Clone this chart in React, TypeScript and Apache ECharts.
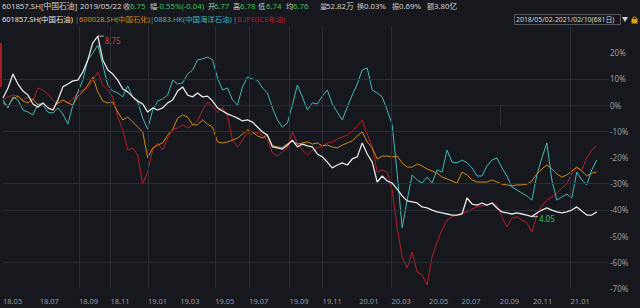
import React, { useEffect, useRef } from 'react';
import * as echarts from 'echarts';

// ---------- data ----------
const SAMPLE_STEP = 5.714; // trading days between samples (681 trading days total)

const monthLabels = ['18.05', '18.07', '18.09', '18.11', '19.01', '19.03', '19.05', '19.07', '19.09', '19.11', '20.01', '20.03', '20.05', '20.07', '20.09', '20.11', '21.01'];
const monthDays = [0, 42, 87, 123, 166, 203, 243, 282, 328, 366, 408, 445, 488, 525, 569, 607, 650];
const gridMonths = ['18.09', '18.11', '19.01', '19.05', '19.07', '19.09', '19.11', '20.03', '21.01'];
const tickMonths = ['18.09', '18.11', '19.01', '19.05', '19.07', '19.09', '19.11', '20.03', '20.09', '21.01'];
const yTicks = [20, 10, 0, -10, -20, -30, -40, -50, -60, -70];
const hGridValues = [10, 0, -10, -30, -40, -60];

// % change vs 2018/05/02
const petrochina = [
  2.7, 6.5, 11.8, 8.0, 5.3, 3.8, 0.4, -0.8, 0.8, -1.1,
  -1.9, 1.9, 6.9, 8.0, 9.2, 9.5, 12.6, 17.2, 23.7, 26.3,
  17.2, 13.4, 11.8, 9.5, 6.1, 5.0, 3.1, 1.5, 0.4, -2.7,
  -1.1, -1.9, -1.1, 0.8, 1.9, 5.3, 6.9, 3.8, 3.1, 4.6,
  3.1, 3.4, 1.5, -1.1, -2.3, -3.4, -4.2, -5.0, -6.1, -5.7,
  -6.5, -8.4, -10.3, -11.5, -16.0, -16.4, -16.8, -15.3, -13.4, -16.0,
  -14.9, -15.6, -16.0, -18.7, -19.8, -21.8, -24.0, -22.9, -22.1, -22.9,
  -20.6, -19.8, -14.5, -18.7, -21.8, -29.4, -27.1, -29.0, -29.8, -32.1,
  -34.7, -36.6, -37.0, -37.4, -38.9, -39.3, -40.1, -40.8, -41.2, -41.6,
  -42.0, -42.0, -41.6, -35.5, -37.8, -38.2, -37.4, -38.2, -37.4, -39.3,
  -40.8, -41.2, -41.6, -41.2, -41.6, -42.0, -42.6, -41.2, -40.1, -39.3,
  -40.1, -40.8, -41.2, -40.8, -40.1, -38.9, -40.5, -42.0, -42.0, -40.8,
];
const sinopec = [
  0.8, -0.4, 2.3, 3.4, 1.5, 0.8, 2.3, 0, 0.8, -1.1,
  -1.9, 0.8, 1.9, 0.8, 0, 3.4, 5.0, 7.6, 10.7, 5.0,
  1.5, 0.8, 1.1, -2.7, -5.7, -4.6, -6.5, -8.4, -10.3, -20.2,
  -16.4, -15.3, -14.5, -11.5, -9.5, -5.0, -3.8, -4.6, -7.6, -7.6,
  -5.7, -7.3, -8.4, -14.1, -14.5, -14.1, -13.4, -12.6, -11.1, -9.5,
  -10.3, -11.8, -12.6, -11.5, -15.5, -16.0, -16.2, -14.8, -13.7, -14.9,
  -14.5, -14.1, -14.9, -14.5, -15.6, -15.3, -16.0, -16.4, -15.3, -14.5,
  -13.7, -11.8, -10.3, -14.1, -16.4, -20.6, -19.5, -19.5, -19.8, -19.5,
  -22.1, -23.7, -23.7, -22.5, -23.3, -24.4, -25.2, -26.0, -27.5, -28.2,
  -29.0, -29.8, -25.6, -26.7, -28.6, -29.4, -29.4, -29.4, -28.6, -29.4,
  -30.2, -30.5, -30.9, -30.5, -30.5, -30.2, -29.0, -26.3, -24.4, -22.9,
  -24.4, -26.3, -27.5, -26.7, -25.2, -23.7, -25.2, -27.1, -26.0, -25.6,
];
const cnooc = [
  1.9, -1.1, 3.1, 1.9, -1.9, -2.7, -3.8, 0.4, 0, -2.7,
  -3.1, -1.1, -3.4, -7.3, 0, 5.0, 9.5, 17.2, 19.8, 22.9,
  15.3, 7.6, 5.3, 4.6, 3.1, 7.3, 3.1, 1.1, -5.0, -9.2,
  -1.9, 1.5, 2.3, 3.8, 9.5, 8.0, 8.4, 11.8, 13.4, 17.2,
  17.6, 18.3, 17.2, 10.3, 5.7, 6.5, 1.9, 0, 6.9, 10.7,
  9.9, 9.5, 6.5, 4.6, -1.1, -5.7, -8.4, -6.9, 0, 7.6,
  3.1, -1.9, 0.8, 0.4, 3.4, 5.7, 0.4, -2.7, -5.7, -0.8,
  3.8, 8.0, 13.4, 14.1, 5.7, 4.6, 3.1, -1.9, -7.6, -26.0,
  -46.9, -36.3, -26.7, -28.6, -29.8, -27.5, -29.8, -24.8, -25.6, -17.2,
  -21.8, -22.1, -21.0, -22.1, -24.0, -27.1, -27.1, -23.3, -21.0, -20.2,
  -24.0, -27.1, -31.3, -32.4, -33.6, -34.7, -36.3, -26.7, -20.2, -14.5,
  -28.6, -36.3, -35.1, -34.0, -35.5, -25.6, -28.6, -30.5, -24.8, -21.0,
];
const brent = [
  1.9, 3.1, 3.8, 3.4, 1.9, 3.1, 1.9, 6.5, 5.7, 4.2,
  1.9, 0.4, 1.9, 0.8, 2.3, 4.6, 5.7, 6.5, 9.5, 12.6,
  7.6, 5.7, 3.1, -4.6, -9.5, -17.2, -16.4, -19.1, -30.2, -25.6,
  -17.2, -14.5, -17.2, -12.6, -9.2, -8.8, -7.6, -8.8, -7.6, -6.1,
  -1.9, 1.1, -0.8, -2.7, -1.1, -4.2, -13.4, -16.0, -13.4, -10.7,
  -11.1, -10.3, -11.8, -13.4, -18.3, -19.5, -17.9, -16.4, -10.3, -14.5,
  -17.2, -19.1, -17.2, -16.4, -15.6, -14.5, -14.1, -13.0, -12.2, -11.5,
  -9.9, -8.0, -5.7, -11.1, -16.0, -25.6, -24.8, -25.6, -32.4, -46.9,
  -58.0, -62.2, -56.1, -63.7, -64.9, -68.7, -58.0, -52.3, -47.7, -43.9,
  -42.7, -42.0, -41.2, -40.8, -39.7, -38.9, -38.5, -38.2, -37.4, -38.2,
  -42.7, -46.6, -43.1, -42.7, -43.9, -45.0, -48.5, -42.0, -38.5, -36.3,
  -35.1, -33.6, -31.7, -30.2, -26.0, -24.0, -24.8, -20.2, -17.2, -15.6,
];

const stockTitle = '601857.SH[中国石油]';
const quoteDate = '2019/05/22';
const quoteItems = [
  ['收', '6.75'], ['幅', '-0.55%(-0.04)'], ['开', '6.77'], ['高', '6.78'], ['低', '6.74'], ['均', '6.76'],
  ['量', '52.82万'], ['换', '0.03%'], ['振', '0.69%'], ['额', '3.80亿'],
];
const legendNames = ['601857.SH(中国石油)', '600028.SH(中国石化)', '0883.HK(中国海洋石油)', 'B.IPE(ICE布油)'];
const rangeText = '2018/05/02-2021/02/10(681日)';
const highLabel = '8.75';
const lowLabel = '4.05';

// ---------- styles ----------
const BG = '#16181d';
const GRID = '#2b2e34';
const AXIS_TEXT = '#9a9ca0';
const FONT = '"Noto Sans", "Noto Sans CJK SC", sans-serif';
const COLORS = ['#e6e6e6', '#cf8a1e', '#45b9b9', '#b81e27'];
const GREEN = '#3cc05e';

export default function App() {
  const ref = useRef<HTMLDivElement>(null);

  useEffect(() => {
    if (!ref.current) return;
    const chart = echarts.init(ref.current, undefined, { renderer: 'svg' });
    const dayOf = (m: string) => monthDays[monthLabels.indexOf(m)];
    const toPts = (arr: number[]) => arr.map((v, i) => [i * SAMPLE_STEP, v]);

    const lineSeries = (name: string, arr: number[], color: string, width: number, z: number, extra: any = {}) => ({
      type: 'line',
      name,
      data: toPts(arr),
      showSymbol: false,
      symbol: 'none',
      silent: true,
      z,
      lineStyle: { color, width },
      itemStyle: { color },
      ...extra,
    });

    const txt = (text: string, x: number, y: number, fill: string, fontSize = 7.5) => ({
      type: 'text',
      x,
      y,
      silent: true,
      style: { text, fill, fontSize, fontFamily: FONT, verticalAlign: 'middle', align: 'left' },
    });

    const qLabelX = [123, 150, 208, 233, 258, 286, 320, 357, 392, 427];
    const qValX = [130, 157, 214, 240, 266, 293, 326, 364, 399, 434];
    const graphics: any[] = [
      txt(stockTitle, 2, 6, '#d6d6d6', 7.8),
      txt(quoteDate, 80, 6, '#d6d6d6', 7.8),
    ];
    quoteItems.forEach(([l, v], i) => {
      graphics.push(txt(l, qLabelX[i], 6, '#c8c8c8', 7.2));
      graphics.push(txt(v, qValX[i], 6, i < 6 ? GREEN : '#d0d0d0', 7.8));
    });
    const legX = [2, 79, 154, 237];
    const sepX = [75, 150, 233];
    legendNames.forEach((n, i) => graphics.push(txt(n, legX[i], 19, COLORS[i], 7.4)));
    sepX.forEach((x) => graphics.push(txt('|', x, 19, '#8a8a8a', 7.4)));
    graphics.push({
      type: 'rect', silent: true,
      shape: { x: 514.5, y: 14.5, width: 106, height: 10 },
      style: { fill: 'none', stroke: '#55585e', lineWidth: 1 },
    });
    graphics.push(txt(rangeText, 516, 19.5, '#d6d6d6', 6.9));
    graphics.push({ type: 'polygon', silent: true, shape: { points: [[622, 17], [628, 17], [625, 22]] }, style: { fill: '#cfcfcf' } });
    graphics.push({ type: 'arc', silent: true, shape: { cx: 634.5, cy: 19, r: 2, startAngle: Math.PI, endAngle: 0 }, style: { stroke: '#d9a21b', fill: 'none', lineWidth: 1 } });
    graphics.push({ type: 'rect', silent: true, shape: { x: 631.5, y: 19, width: 6, height: 4.5 }, style: { fill: '#d9a21b' } });
    graphics.push({ type: 'rect', silent: true, shape: { x: 0, y: 43, width: 2, height: 44 }, style: { fill: '#a31d22' } });

    const option: any = {
      animation: false,
      backgroundColor: BG,
      textStyle: { fontFamily: FONT },
      grid: { left: 2, right: 31, top: 26.4, bottom: 19.6, containLabel: false },
      xAxis: {
        type: 'value',
        min: 0,
        max: 694,
        axisLine: { show: false },
        splitLine: { show: false },
        axisTick: { show: true, customValues: tickMonths.map(dayOf), length: 20, lineStyle: { color: GRID } },
        axisLabel: {
          customValues: monthDays,
          formatter: (v: number) => monthLabels[monthDays.indexOf(v)] ?? '',
          align: 'left',
          color: AXIS_TEXT,
          fontSize: 7.5,
          margin: 9,
          fontFamily: FONT,
        },
      },
      yAxis: {
        type: 'value',
        position: 'right',
        min: -70,
        max: 30,
        interval: 10,
        axisLine: { show: false },
        axisTick: { show: false },
        splitLine: { show: false },
        axisLabel: {
          customValues: yTicks,
          formatter: (v: number) => `${v}%`,
          align: 'left',
          margin: 1,
          color: AXIS_TEXT,
          fontSize: 8,
          fontFamily: FONT,
        },
      },
      series: [
        {
          type: 'line',
          data: [],
          silent: true,
          z: 1,
          markLine: {
            silent: true,
            symbol: ['none', 'none'],
            label: { show: false },
            emphasis: { disabled: true },
            lineStyle: { color: GRID, width: 1, type: 'solid' },
            data: [
              ...hGridValues.map((v) => ({ yAxis: v })),
              ...gridMonths.map((m) => ({ xAxis: dayOf(m) })),
            ],
          },
        },
        lineSeries(legendNames[3], brent, COLORS[3], 1, 2),
        lineSeries(legendNames[1], sinopec, COLORS[1], 1, 3),
        lineSeries(legendNames[2], cnooc, COLORS[2], 1, 4),
        lineSeries(legendNames[0], petrochina, COLORS[0], 1.3, 5, {
          markPoint: {
            silent: true,
            symbol: 'rect',
            symbolSize: [6, 1],
            symbolOffset: [3, 0],
            itemStyle: { color: '#b8b8b8' },
            data: [
              { type: 'max', label: { show: true, position: 'right', distance: 1, formatter: highLabel, color: '#d83a3a', fontSize: 8, offset: [0, 4], fontFamily: FONT } },
              { type: 'min', label: { show: true, position: 'right', distance: 1, formatter: lowLabel, color: GREEN, fontSize: 8, offset: [0, 2], fontFamily: FONT } },
            ],
          },
        }),
      ],
      graphic: graphics,
    };
    chart.setOption(option);
    return () => chart.dispose();
  }, []);

  return <div ref={ref} style={{ position: 'absolute', left: 0, top: 0, width: 640, height: 308 }} />;
}
